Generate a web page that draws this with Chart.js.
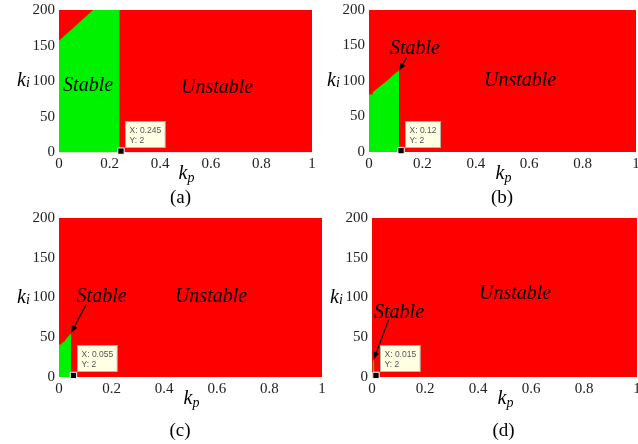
<!DOCTYPE html>
<html lang="en">
<head>
<meta charset="UTF-8">
<title>Stability regions in the kp-ki plane</title>
<script src="https://cdn.jsdelivr.net/npm/chart.js"></script>
<style>
    body {
        margin: 0;
        background: #fff;
        width: 638px;
        height: 444px;
        overflow: hidden;
        position: relative;
    }

    canvas {
        position: absolute;
    }
</style>
</head>
<body>
<canvas id="chartA"></canvas>
<canvas id="chartB"></canvas>
<canvas id="chartC"></canvas>
<canvas id="chartD"></canvas>

<script>
    // tick labels
    const kpTicks = [0, 0.2, 0.4, 0.6, 0.8, 1];
    const kiTicks = [0, 50, 100, 150, 200];

    // the unstable region covers the whole grid
    const unstableKp = [0, 1];
    const unstableKi = [200, 200];

    // stable region boundary for cases (a)-(d)
    const stableKpA = [0, 0.135, 0.24, 0.24];
    const stableKiA = [157, 200, 200, 0];
    const stableKpB = [0, 0.012, 0.014, 0.03, 0.05, 0.07, 0.09, 0.113, 0.113];
    const stableKiB = [81, 81, 84, 89, 95, 101, 108, 115, 0];
    const stableKpC = [0, 0.008, 0.01, 0.02, 0.025, 0.035, 0.047, 0.047];
    const stableKiC = [41, 41, 43, 44, 47, 51, 55, 0];
    const stableKpD = [0.002, 0.002, 0.009, 0.009];
    const stableKiD = [0, 21, 21, 0];

    // data tips
    const tipKp = [0.245, 0.12, 0.055, 0.015];
    const tipKi = [2, 2, 2, 2];

    const captions = ['(a)', '(b)', '(c)', '(d)'];

    const RED = 'rgb(255,0,0)';
    const GREEN = 'rgb(0,242,0)';
    const SERIF = '"Liberation Serif", "Times New Roman", serif';

    // page layout of each panel (plot area in page pixels, label spots in data units)
    const panels = [
        { id: 'chartA', kp: stableKpA, ki: stableKiA, area: { l: 59, r: 312, t: 9.5, b: 152.5 }, bottom: 212,
          stableAt: [0.115, 86.7], unstableAt: [0.625, 83.9], arrow: null, capX: 180.5, capY: 203 },
        { id: 'chartB', kp: stableKpB, ki: stableKiB, area: { l: 369, r: 636, t: 9, b: 152 }, bottom: 212,
          stableAt: [0.172, 138.5], unstableAt: [0.566, 92.3], arrow: [[0.141, 133], [0.114, 115]], capX: 502, capY: 203 },
        { id: 'chartC', kp: stableKpC, ki: stableKiC, area: { l: 59, r: 322, t: 217.5, b: 377 }, bottom: 444,
          stableAt: [0.162, 94.4], unstableAt: [0.578, 94.4], arrow: [[0.103, 91], [0.047, 56]], capX: 180, capY: 436 },
        { id: 'chartD', kp: stableKpD, ki: stableKiD, area: { l: 372, r: 637, t: 217.5, b: 377 }, bottom: 444,
          stableAt: [0.102, 74], unstableAt: [0.54, 97.8], arrow: [[0.062, 71.5], [0.0075, 22.6]], capX: 503.5, capY: 436 }
    ];

    const Y_AXIS_W = 59;
    const X_AXIS_H = 20;

    function toPoints(xs, ys) {
        return xs.map((v, i) => ({ x: v, y: ys[i] }));
    }

    function drawArrow(ctx, x0, y0, x1, y1) {
        const ang = Math.atan2(y1 - y0, x1 - x0);
        const len = 7, half = 3;
        ctx.save();
        ctx.strokeStyle = '#000';
        ctx.fillStyle = '#000';
        ctx.lineWidth = 1.2;
        ctx.beginPath();
        ctx.moveTo(x0, y0);
        ctx.lineTo(x1 - Math.cos(ang) * len * 0.8, y1 - Math.sin(ang) * len * 0.8);
        ctx.stroke();
        ctx.beginPath();
        ctx.moveTo(x1, y1);
        ctx.lineTo(x1 - Math.cos(ang) * len - Math.sin(ang) * half, y1 - Math.sin(ang) * len + Math.cos(ang) * half);
        ctx.lineTo(x1 - Math.cos(ang) * len + Math.sin(ang) * half, y1 - Math.sin(ang) * len - Math.cos(ang) * half);
        ctx.closePath();
        ctx.fill();
        ctx.restore();
    }

    panels.forEach((p, idx) => {
        const canvas = document.getElementById(p.id);
        const cLeft = p.area.l - Y_AXIS_W;
        const cTop = Math.floor(p.area.t) - 12;
        const cWidth = p.area.r + 12 - cLeft;
        const cHeight = p.bottom - cTop;
        canvas.width = cWidth;
        canvas.height = cHeight;
        canvas.style.left = cLeft + 'px';
        canvas.style.top = cTop + 'px';

        const padTop = p.area.t - cTop;
        const padBottom = cHeight - padTop - (p.area.b - p.area.t) - X_AXIS_H;

        const decor = {
            id: 'decor' + idx,
            afterDraw(chart) {
                const ctx = chart.ctx;
                const xs = chart.scales.x, ys = chart.scales.y;
                const ca = chart.chartArea;

                // region labels
                ctx.save();
                ctx.fillStyle = '#000';
                ctx.font = 'italic 20px ' + SERIF;
                ctx.textAlign = 'center';
                ctx.textBaseline = 'alphabetic';
                ctx.fillText('Stable', xs.getPixelForValue(p.stableAt[0]), ys.getPixelForValue(p.stableAt[1]));
                ctx.fillText('Unstable', xs.getPixelForValue(p.unstableAt[0]), ys.getPixelForValue(p.unstableAt[1]));
                ctx.restore();

                if (p.arrow) {
                    drawArrow(ctx,
                        xs.getPixelForValue(p.arrow[0][0]), ys.getPixelForValue(p.arrow[0][1]),
                        xs.getPixelForValue(p.arrow[1][0]), ys.getPixelForValue(p.arrow[1][1]));
                }

                // data tip box
                const mx = xs.getPixelForValue(tipKp[idx]);
                const my = ys.getPixelForValue(tipKi[idx]);
                ctx.save();
                ctx.font = '8.5px "Liberation Sans", Arial, sans-serif';
                const lines = ['X: ' + tipKp[idx], 'Y: ' + tipKi[idx]];
                const w = Math.max(...lines.map(t => ctx.measureText(t).width)) + 8;
                const h = 26;
                const bx = Math.round(mx + 4) + 0.5;
                const by = Math.round(my - 4 - h) + 0.5;
                ctx.fillStyle = '#ffffe4';
                ctx.strokeStyle = '#b8b8a8';
                ctx.lineWidth = 1;
                ctx.fillRect(bx, by, w, h);
                ctx.strokeRect(bx, by, w, h);
                ctx.fillStyle = '#555';
                ctx.textBaseline = 'alphabetic';
                ctx.fillText(lines[0], bx + 4, by + 11);
                ctx.fillText(lines[1], bx + 4, by + 21);
                ctx.restore();

                // axis titles and caption
                ctx.save();
                ctx.fillStyle = '#000';
                ctx.textBaseline = 'alphabetic';
                const kiX = ca.left - 42;
                const kiY = (ca.top + ca.bottom) / 2 + 5;
                ctx.font = 'italic 20px ' + SERIF;
                ctx.fillText('k', kiX, kiY);
                const kW = ctx.measureText('k').width;
                ctx.font = 'italic 14px ' + SERIF;
                ctx.fillText('i', kiX + kW, kiY + 1);

                const pW = ctx.measureText('p').width;
                ctx.font = 'italic 20px ' + SERIF;
                const kpX = (ca.left + ca.right) / 2 + 1 - (kW + pW) / 2;
                const kpY = ca.bottom + 26.5;
                ctx.fillText('k', kpX, kpY);
                ctx.font = 'italic 14px ' + SERIF;
                ctx.fillText('p', kpX + kW, kpY + 3);

                ctx.font = '19px ' + SERIF;
                ctx.textAlign = 'center';
                ctx.fillText(captions[idx], p.capX - cLeft, p.capY - cTop);
                ctx.restore();
            }
        };

        new Chart(canvas, {
            type: 'line',
            data: {
                datasets: [
                    {
                        label: 'Data tip',
                        data: [{ x: tipKp[idx], y: tipKi[idx] }],
                        showLine: false,
                        pointStyle: 'rect',
                        pointRadius: 4.5,
                        backgroundColor: '#000',
                        borderColor: '#fff',
                        borderWidth: 1,
                        clip: false,
                        order: 0
                    },
                    {
                        label: 'Stable',
                        data: toPoints(p.kp, p.ki),
                        fill: 'origin',
                        backgroundColor: GREEN,
                        borderColor: GREEN,
                        borderWidth: 0,
                        pointRadius: 0,
                        tension: 0,
                        order: 1
                    },
                    {
                        label: 'Unstable',
                        data: toPoints(unstableKp, unstableKi),
                        fill: 'origin',
                        backgroundColor: RED,
                        borderColor: RED,
                        borderWidth: 0,
                        pointRadius: 0,
                        tension: 0,
                        order: 2
                    }
                ]
            },
            options: {
                responsive: false,
                animation: false,
                devicePixelRatio: 1,
                events: [],
                layout: { padding: { left: 0, right: 12, top: padTop, bottom: padBottom } },
                scales: {
                    x: {
                        type: 'linear',
                        min: 0,
                        max: 1,
                        border: { display: false },
                        grid: { display: false, drawTicks: false },
                        afterBuildTicks: s => { s.ticks = kpTicks.map(v => ({ value: v })); },
                        afterFit: s => { s.height = X_AXIS_H; },
                        ticks: {
                            padding: 3, color: '#222', maxRotation: 0,
                            font: { family: SERIF, size: 15 },
                            callback: v => String(v)
                        }
                    },
                    y: {
                        type: 'linear',
                        min: 0,
                        max: 200,
                        border: { display: false },
                        grid: { display: false, drawTicks: false },
                        afterBuildTicks: s => { s.ticks = kiTicks.map(v => ({ value: v })); },
                        afterFit: s => { s.width = Y_AXIS_W; },
                        ticks: {
                            padding: 4, color: '#222',
                            font: { family: SERIF, size: 15 },
                            callback: v => String(v)
                        }
                    }
                },
                plugins: {
                    legend: { display: false },
                    tooltip: { enabled: false }
                }
            },
            plugins: [decor]
        });
    });
</script>
</body>
</html>
